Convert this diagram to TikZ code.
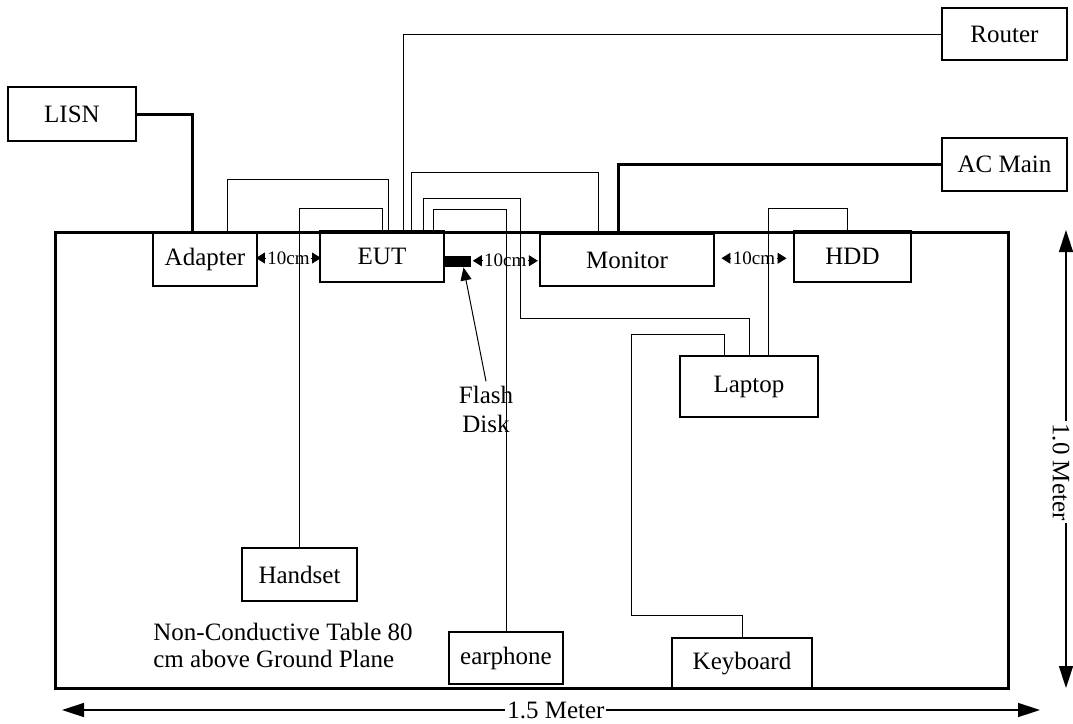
\documentclass[tikz,border=0pt]{standalone}
\usepackage{fontspec}
\setmainfont{Liberation Serif}
\usetikzlibrary{arrows.meta, calc, positioning}

\tikzset{
box/.style={draw, line width=0.75pt, inner sep=0pt, font=\fontsize{12.5}{14}\selectfont},
wire/.style={line width=0.5pt},
mains/.style={line width=1.5pt},
gap/.style={inner sep=0.5pt, font=\fontsize{9.5}{10}\selectfont},
gaptip/.style={-{Triangle[length=4.5pt,width=5.5pt]}, line width=0.5pt},
dim/.style={{Triangle[length=11pt,width=7pt]}-{Triangle[length=11pt,width=7pt]}, line width=0.75pt},
dimlabel/.style={fill=white, inner sep=1pt, font=\fontsize{12.5}{14}\selectfont},
flashbox/.style={fill=black, inner sep=0pt, minimum width=13.5pt, minimum height=5.5pt}
}

\begin{document}
\begin{tikzpicture}[x=0.5pt, y=-0.5pt]
\useasboundingbox (0,0) rectangle (1073,724);
\draw [line width=1.5pt] (55,232) rectangle (1008,688);
\node [box, minimum width=64pt, minimum height=27pt] (lisn) at (72,114) {LISN};
\node [box, minimum width=62.5pt, minimum height=26pt] (router) at (1004.5,34) {Router};
\node [box, minimum width=62.5pt, minimum height=26.5pt] (acmain) at (1004.5,164.5) {AC Main};
\node [box, minimum width=52pt, minimum height=26.5pt] (adapter) at (205,259.5) {Adapter};
\node [box, minimum width=62pt, minimum height=25.5pt] (eut) at (382,256.5) {EUT};
\node [box, minimum width=87pt, minimum height=26pt] (monitor) at (627,260) {Monitor};
\node [box, minimum width=58.5pt, minimum height=25.5pt] (hdd) at (852.5,256.5) {HDD};
\node [box, minimum width=69pt, minimum height=30.5pt] (laptop) at (749,386.5) {Laptop};
\node [box, minimum width=57.5pt, minimum height=26.5pt] (handset) at (299.5,574.5) {Handset};
\node [box, minimum width=57pt, minimum height=26pt] (earphone) at (506,658) {earphone};
\node [box, minimum width=70pt, minimum height=25.5pt] (keyboard) at (742,663.5) {Keyboard};
\node [flashbox] (flash) at (457.5,261.5) {};
\node [align=center, inner sep=0pt, font=\fontsize{12.5}{14.5}\selectfont] (flashlbl) at (486,409) {Flash\\Disk};
\node [anchor=north west, align=left, inner sep=0pt, font=\fontsize{12.5}{13.5}\selectfont] (note) at (153,623) {Non-Conductive Table 80\\cm above Ground Plane};

% power
\draw [mains] (lisn.east) -| ([xshift=-6.5pt]adapter.north);
\draw [mains] (acmain.west) -| ([xshift=-4.5pt]monitor.north);

% cables
\draw [wire] ([xshift=11pt]adapter.north) -- ++(0,-53) -| ([xshift=3pt]eut.north);
\draw [wire] (handset.north) -- ++(0,-339) -| (eut.north);
\draw [wire] ([xshift=10.5pt]eut.north) |- (router.west);
\draw [wire] ([xshift=14.5pt]eut.north) -- ++(0,-58) -| ([xshift=-14.5pt]monitor.north);
\draw [wire] ([xshift=20.5pt]eut.north) -- ++(0,-32) -| ++(97,120) -| (laptop.north);
\draw [wire] ([xshift=25.5pt]eut.north) -- ++(0,-21) -| (earphone.north);
\draw [wire] ([xshift=-2.75pt]hdd.north) -- ++(0,-22) -| ([xshift=9.5pt]laptop.north);
\draw [wire] ([xshift=-12.5pt]laptop.north) -- ++(0,-21) -| ++(-93,281) -| (keyboard.north);
\draw [-{Triangle[length=6.5pt,width=5.5pt]}, line width=0.5pt] ([yshift=2pt]flashlbl.north) -- ([xshift=3pt]flash.south);

% 10cm spacing
\node [gap] (gap1) at ($(adapter.east)!0.5!(eut.west)$) {10cm};
\node [gap] (gap2) at ($(flash.east)!0.5!(monitor.west)$) {10cm};
\node [gap] (gap3) at ($(monitor.east)!0.5!(hdd.west)$) {10cm};
\foreach \g in {gap1, gap2, gap3} {
  \draw [gaptip] (\g.west) -- ++(-10,0);
  \draw [gaptip] (\g.east) -- ++(10,0);
}

% table size
\coordinate (vtop) at (1066,230);
\coordinate (vbot) at (1066,688);
\coordinate (hleft) at (62,710);
\coordinate (hright) at (1040,710);
\draw [dim] (vtop) -- (vbot);
\node [dimlabel, rotate=-90] (vlbl) at (1061,472) {1.0 Meter};
\draw [dim] (hleft) -- (hright) node [dimlabel, pos=0.505] (hlbl) {1.5 Meter};
\end{tikzpicture}
\end{document}
